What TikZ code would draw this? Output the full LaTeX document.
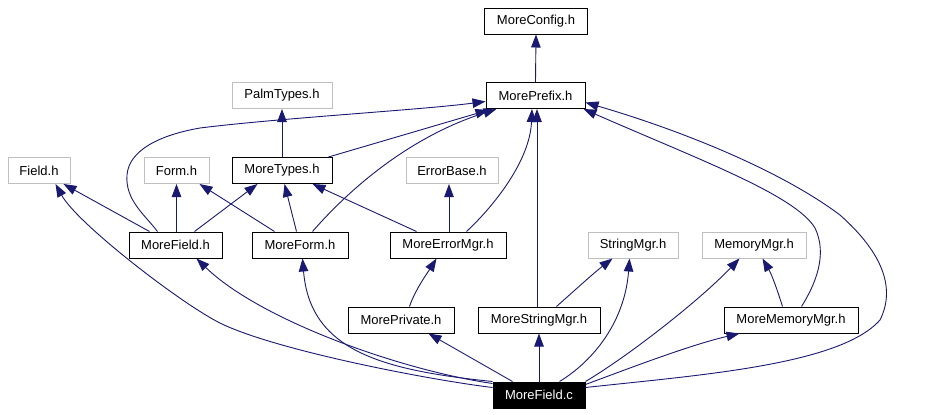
\documentclass[tikz,border=0pt]{standalone}
\usepackage{fontspec}
\setmainfont{Liberation Sans}
\usetikzlibrary{arrows.meta}
\definecolor{edgeblue}{RGB}{25,25,112}
\definecolor{boxgray}{RGB}{191,191,191}
\begin{document}
\begin{tikzpicture}[x=1pt,y=-1pt,
  every node/.style={font=\fontsize{13}{15}\selectfont, inner sep=0pt, minimum height=26pt, anchor=center},
  hbox/.style={draw=black, line width=1pt, fill=white},
  gbox/.style={draw=boxgray, line width=1pt, fill=white},
  rootbox/.style={draw=black, fill=black, text=white, line width=1pt},
  edge/.style={draw=edgeblue, line width=0.9pt, -{Triangle[length=13pt,width=9.5pt]}, fill=none}]
\useasboundingbox (0,0) rectangle (938,415);
% nodes
\node[hbox, minimum width=103pt] (config) at (536,21) {MoreConfig.h};
\node[hbox, minimum width=99pt] (prefix) at (535.5,95.5) {MorePrefix.h};
\node[gbox, minimum width=100pt] (palm) at (282,95.5) {PalmTypes.h};
\node[gbox, minimum width=62pt] (fieldh) at (39,170.5) {Field.h};
\node[gbox, minimum width=65pt] (formh) at (176.5,170.5) {Form.h};
\node[hbox, minimum width=100pt] (mtypes) at (282,170.5) {MoreTypes.h};
\node[gbox, minimum width=92pt] (errbase) at (452,170.5) {ErrorBase.h};
\node[hbox, minimum width=93pt] (mfieldh) at (175.5,245) {MoreField.h};
\node[hbox, minimum width=96pt] (mformh) at (300,245) {MoreForm.h};
\node[hbox, minimum width=116pt] (merr) at (448,245) {MoreErrorMgr.h};
\node[gbox, minimum width=90pt] (strmgr) at (633,245) {StringMgr.h};
\node[gbox, minimum width=104pt] (memmgr) at (754,245) {MemoryMgr.h};
\node[hbox, minimum width=106pt] (mpriv) at (401,320) {MorePrivate.h};
\node[hbox, minimum width=122pt] (mstrmgr) at (539,320) {MoreStringMgr.h};
\node[hbox, minimum width=134pt] (mmemmgr) at (791,320) {MoreMemoryMgr.h};
\node[rootbox, minimum width=92pt] (mfc) at (539,395) {MoreField.c};

% edges
\draw[edge] (prefix.north) -- (config.south);
\draw[edge] (mtypes.north) -- (palm.south);
\draw[edge] ([xshift=-4pt]mtypes.north east) -- ([xshift=3pt,yshift=-1pt]prefix.south west);
\draw[edge] ([xshift=29pt]mfieldh.north west) .. controls (145,215) and (125,200) .. (127,175)
   .. controls (129,150) and (160,135) .. (200,128)
   .. controls (280,118) and (420,110) .. ([yshift=-6pt]prefix.west);
\draw[edge] ([xshift=61pt]mformh.north west) .. controls (340,200) and (400,140) .. ([xshift=11pt]prefix.south west);
\draw[edge] ([xshift=77pt]merr.north west) .. controls (495,205) and (530,160) .. ([xshift=-3.5pt]prefix.south);
\draw[edge] ([xshift=-2pt]mstrmgr.north) -- ([xshift=1.5pt]prefix.south);
\draw[edge] ([xshift=78pt]mmemmgr.north west) .. controls (815,285) and (828,255) .. (815,228)
   .. controls (795,195) and (700,160) .. ([xshift=-2pt]prefix.south east);
\draw[edge] ([xshift=62pt]mpriv.north west) .. controls (415,290) and (428,272) .. ([xshift=47pt]merr.south west);
\draw[edge] ([xshift=79pt]mstrmgr.north west) .. controls (575,290) and (595,272) .. ([xshift=25pt]strmgr.south west);
\draw[edge] ([xshift=59pt]mmemmgr.north west) .. controls (778,292) and (772,275) .. ([xshift=61pt]memmgr.south west);
\draw[edge] ([xshift=21pt]mfieldh.north west) -- ([xshift=-7pt]fieldh.south east);
\draw[edge] ([xshift=1pt]mfieldh.north) -- (formh.south);
\draw[edge] ([xshift=66pt]mfieldh.north west) -- ([xshift=26pt]mtypes.south west);
\draw[edge] ([xshift=23pt]mformh.north west) -- ([xshift=56pt]formh.south west);
\draw[edge] ([xshift=45pt]mformh.north west) -- ([xshift=53pt]mtypes.south west);
\draw[edge] ([xshift=27pt]merr.north west) -- ([xshift=81pt]mtypes.south west);
\draw[edge] ([xshift=1pt]merr.north) -- ([xshift=-3pt]errbase.south);
% from MoreField.c
\draw[edge] ([yshift=-6pt]mfc.north west) .. controls (430,380) and (279,351) .. (222,324)
   .. controls (184,306) and (77.5,224) .. ([xshift=-15pt]fieldh.south east);
\draw[edge] ([yshift=-2pt]mfc.north west) .. controls (400,370) and (260,320) .. ([xshift=68pt]mfieldh.south west);
\draw[edge] (mfc.north west) .. controls (380,370) and (310,350) .. ([xshift=51pt]mformh.south west);
\draw[edge] ([xshift=20pt]mfc.north west) -- ([xshift=81pt]mpriv.south west);
\draw[edge] (mfc.north) -- (mstrmgr.south);
\draw[edge] ([xshift=67pt]mfc.north west) .. controls (595,360) and (625,320) .. ([xshift=42pt]strmgr.south west);
\draw[edge] (mfc.north east) .. controls (630,355) and (700,300) .. ([xshift=38pt]memmgr.south west);
\draw[edge] ([yshift=-3pt]mfc.north east) .. controls (630,368) and (690,345) .. ([xshift=16pt]mmemmgr.south west);
\draw[edge] ([yshift=-6pt]mfc.north east) .. controls (700,375) and (840,365) .. (880,320)
   .. controls (895,290) and (885,255) .. (840,215)
   .. controls (780,170) and (680,130) .. ([yshift=-7pt]prefix.east);
\end{tikzpicture}
\end{document}
